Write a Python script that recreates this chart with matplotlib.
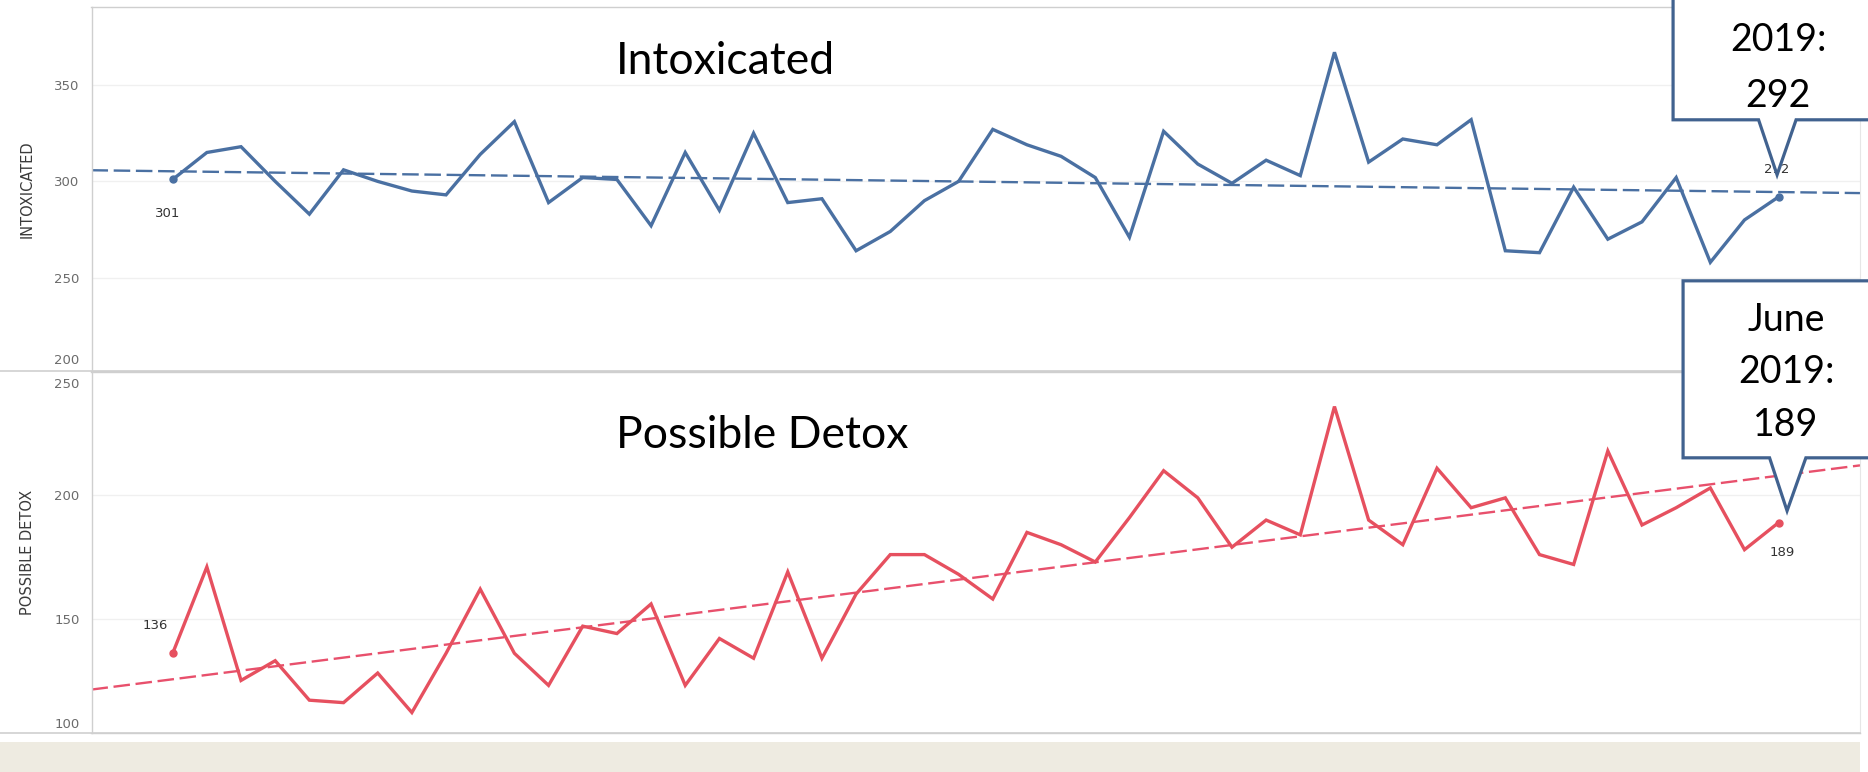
import numpy as np
import pandas as pd
import matplotlib
matplotlib.use("Agg")
import matplotlib.pyplot as plt
from matplotlib.patches import Polygon, Rectangle
from matplotlib.lines import Line2D
from matplotlib.transforms import IdentityTransform

# ---------------- data ----------------
months = [str(p) for p in pd.period_range("2015-07", "2019-06", freq="M")]

intoxicated = [301, 315, 318, 300, 283, 306, 300, 295, 293, 314,
               331, 289, 302, 301, 277, 315, 285, 325, 289, 291,
               264, 274, 290, 300, 327, 319, 313, 302, 271, 326,
               309, 299, 311, 303, 367, 310, 322, 319, 332, 264,
               263, 297, 270, 279, 302, 258, 280, 292]

possible_detox = [136, 171, 125, 133, 117, 116, 128, 112, 136, 162,
                  136, 123, 147, 144, 156, 123, 142, 134, 169, 134,
                  160, 176, 176, 168, 158, 185, 180, 173, 191, 210,
                  199, 179, 190, 184, 236, 190, 180, 211, 195, 199,
                  176, 172, 218, 188, 195, 203, 178, 189]

panel_titles = ["Intoxicated", "Possible Detox"]
axis_titles = ["INTOXICATED", "POSSIBLE DETOX"]
top_ticks = [250, 300, 350]
top_edge_tick = "200"
bottom_ticks = [150, 200]
bottom_edge_ticks = ["250", "100"]
callout_top = ["2019:", "292"]
callout_bottom = ["June", "2019:", "189"]

# ---------------- style ----------------
W, H = 1868, 772
BLUE = "#4A70A2"
RED = "#E6505F"
RED_TREND = "#E8506C"
BOX_EDGE = "#41628F"
GRID = "#F0F0F0"
SPINE = "#CFCFCF"
BEIGE = "#EEEBE1"
TITLE_FONT = ["Lato", "DejaVu Sans"]

fig = plt.figure(figsize=(W / 100, H / 100), dpi=100)
fig.patch.set_facecolor("white")


def fx(px):
    return px / W


def fy(py):
    return 1 - py / H


x = np.arange(len(months))
xlim = (-2.376, 49.38)

ax1 = fig.add_axes([fx(91.5), fy(371), fx(1860) - fx(91.5), fy(7) - fy(371)])
ax2 = fig.add_axes([fx(91.5), fy(733), fx(1860) - fx(91.5), fy(372) - fy(733)])

specs = [
    (ax1, intoxicated, BLUE, BLUE, (201.6, 390.5), top_ticks),
    (ax2, possible_detox, RED, RED_TREND, (103.7, 250.0), bottom_ticks),
]

for ax, vals, col, tcol, ylim, ticks in specs:
    vals = np.asarray(vals, dtype=float)
    ax.set_xlim(*xlim)
    ax.set_ylim(*ylim)
    ax.set_yticks(ticks)
    ax.set_xticks([])
    ax.tick_params(axis="y", length=0, pad=8.6, labelsize=9.5, labelcolor="#6B6B6B")
    for t in ticks:
        ax.axhline(t, color=GRID, lw=1.0, zorder=0)
    for s in ["left", "top", "bottom"]:
        ax.spines[s].set_color(SPINE)
        ax.spines[s].set_linewidth(1.0)
    ax.spines["right"].set_color("#E6E6E6")
    # trend line (least squares)
    k, b = np.polyfit(x, vals, 1)
    xt = np.array(xlim)
    ax.plot(xt, k * xt + b, color=tcol, lw=1.7, dashes=(7, 2.4), zorder=2)
    # main line
    ax.plot(x, vals, color=col, lw=2.4, solid_joinstyle="miter", zorder=3)
    ax.plot([x[0], x[-1]], [vals[0], vals[-1]], "o", color=col, ms=5, zorder=4)

# data labels at first / last points
lab_kw = dict(textcoords="offset pixels", ha="center", va="center",
              fontsize=9.5, color="#333333", zorder=5)
ax1.annotate(str(intoxicated[0]), (x[0], intoxicated[0]), xytext=(-5, -34), **lab_kw)
ax1.annotate(str(intoxicated[-1]), (x[-1], intoxicated[-1]), xytext=(-2, 27), **lab_kw)
ax2.annotate(str(possible_detox[0]), (x[0], possible_detox[0]), xytext=(-17, 28), **lab_kw)
ax2.annotate(str(possible_detox[-1]), (x[-1], possible_detox[-1]), xytext=(4, -30), **lab_kw)

# edge tick labels (shifted inward like the original)
fig.text(fx(79.5), fy(360), top_edge_tick, ha="right", va="center",
         fontsize=9.5, color="#6B6B6B")
fig.text(fx(79.5), fy(385), bottom_edge_ticks[0], ha="right", va="center",
         fontsize=9.5, color="#6B6B6B")
fig.text(fx(79.5), fy(725), bottom_edge_ticks[1], ha="right", va="center",
         fontsize=9.5, color="#6B6B6B")

# axis titles
fig.text(fx(27.5), fy(189), axis_titles[0], rotation=90, ha="center", va="center",
         fontsize=10.5, color="#3A3A3A")
fig.text(fx(27.5), fy(552), axis_titles[1], rotation=90, ha="center", va="center",
         fontsize=10.5, color="#3A3A3A")

# panel titles
fig.text(fx(616), fy(62), panel_titles[0], ha="left", va="center",
         fontsize=32, color="black", family=TITLE_FONT)
fig.text(fx(616), fy(435), panel_titles[1], ha="left", va="center",
         fontsize=32, color="black", family=TITLE_FONT)

# divider lines and footer band
for yy in (371, 733):
    fig.add_artist(Line2D([0, fx(1860)], [fy(yy), fy(yy)], color=SPINE, lw=1.2))
fig.add_artist(Rectangle((0, 0), fx(1860), (772 - 741.7) / H,
                         transform=fig.transFigure, facecolor=BEIGE, edgecolor="none",
                         zorder=3))


# callouts anchored to the last data points
def callout(ax, xv, yv, apex_off, base, box, texts, text_dy, text_dx):
    px, py = ax.transData.transform((xv, yv))
    axp = px + apex_off[0]
    ayp = py - apex_off[1]  # offsets given y-down
    bl, br = base
    left, right, top, bottom = box

    def P(dx, dy):
        return (axp + dx, ayp - dy)

    verts = [P(0, 0), P(br, bottom), P(right, bottom), P(right, top),
             P(left, top), P(left, bottom), P(bl, bottom)]
    poly = Polygon(verts, closed=True, transform=IdentityTransform(),
                   facecolor="white", edgecolor=BOX_EDGE, lw=2.3, zorder=6,
                   joinstyle="miter")
    fig.add_artist(poly)
    for t, dy in zip(texts, text_dy):
        X, Y = P(text_dx, dy)
        fig.text(X / W, Y / H, t, ha="center", va="center", fontsize=27,
                 color="black", family=TITLE_FONT, zorder=7)


callout(ax1, x[-1], intoxicated[-1], (-1.6, -22), (-18.5, 19),
        (-104, 106, -330, -55), callout_top, (-135, -79), 1)
callout(ax2, x[-1], possible_detox[-1], (8.4, -11.7), (-17.5, 18.8),
        (-104, 103, -230, -53), callout_bottom, (-191, -139, -86), -1)

fig.savefig("out.png", dpi=100, facecolor="white")
